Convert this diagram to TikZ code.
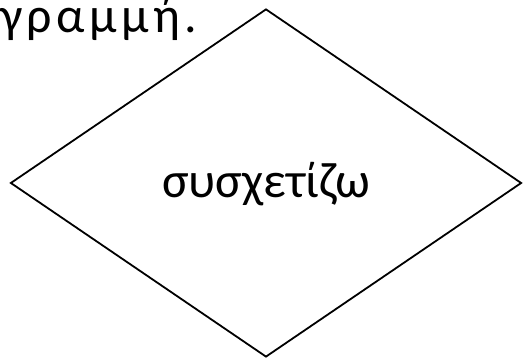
\documentclass[tikz,border=0pt]{standalone}
\usepackage{fontspec}
\setmainfont{Carlito}
\newfontfamily\spacedfont[LetterSpace=9]{Carlito}
\usetikzlibrary{shapes.geometric}

\begin{document}
\begin{tikzpicture}[x=1pt,y=1pt,
  relbox/.style={diamond, draw, line width=1.8pt, inner sep=0pt,
    minimum width=511pt, minimum height=348pt,
    text height=30pt, text depth=0pt, font=\fontsize{50}{60}\selectfont}]
\useasboundingbox (0,0) rectangle (523,358);
\node[anchor=base west, inner sep=0pt, font=\spacedfont\fontsize{50}{60}\selectfont] (line) at (0,325) {γραμμή.};
\node[relbox] (relate) at (266,175) {συσχετίζω};
\end{tikzpicture}
\end{document}
